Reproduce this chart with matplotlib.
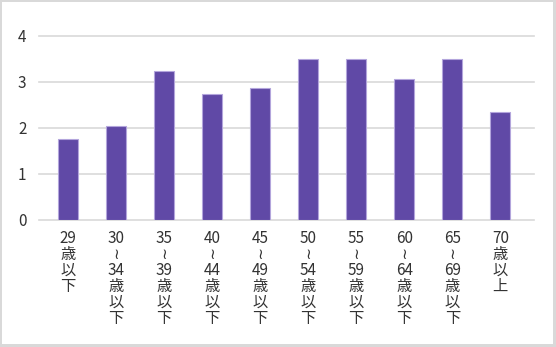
import matplotlib.pyplot as plt
from matplotlib.patches import Rectangle

plt.rcParams['font.family'] = ['Noto Sans CJK JP', 'DejaVu Sans']

# age groups (labels are stacked vertically, one character group per line)
age_groups = ['29\n歳\n以\n下',
              '30\n≀\n34\n歳\n以\n下',
              '35\n≀\n39\n歳\n以\n下',
              '40\n≀\n44\n歳\n以\n下',
              '45\n≀\n49\n歳\n以\n下',
              '50\n≀\n54\n歳\n以\n下',
              '55\n≀\n59\n歳\n以\n下',
              '60\n≀\n64\n歳\n以\n下',
              '65\n≀\n69\n歳\n以\n下',
              '70\n歳\n以\n上']
values = [1.77, 2.04, 3.24, 2.74, 2.88, 3.49, 3.49, 3.07, 3.50, 2.34]
y_ticks = [0, 1, 2, 3, 4]

W, H = 556, 347
fig = plt.figure(figsize=(W / 100, H / 100), dpi=100)
fig.patch.set_facecolor('#d9d9d9')
# white card inside the grey frame
card = Rectangle((2 / W, 3 / H), 551 / W, 342 / H, transform=fig.transFigure,
                 facecolor='white', edgecolor='none', zorder=-10)
fig.add_artist(card)

ax = fig.add_axes([39 / W, 1 - 220 / H, 495 / W, 184 / H])
ax.set_facecolor('none')
ax.set_zorder(1)

x = range(len(values))
ax.bar(x, values, width=0.42, color='#6049a6', edgecolor='#b3a5dc',
       linewidth=0.8, zorder=3)

ax.set_xlim(-0.6, 9.7)
ax.set_ylim(0, 4)
ax.set_yticks(y_ticks)
ax.set_yticklabels([str(t) for t in y_ticks])
ax.set_xticks(list(x))
ax.set_xticklabels(age_groups, va='top', linespacing=0.92)

for t in y_ticks:
    ax.axhline(t, color='#d9d9d9', linewidth=1.2, zorder=1, clip_on=False)

for s in ax.spines.values():
    s.set_visible(False)
ax.tick_params(axis='both', length=0, colors='#333333')
ax.tick_params(axis='y', pad=9, labelsize=11)
ax.tick_params(axis='x', pad=7, labelsize=11)

plt.savefig('out.png', dpi=100, facecolor=fig.get_facecolor())
